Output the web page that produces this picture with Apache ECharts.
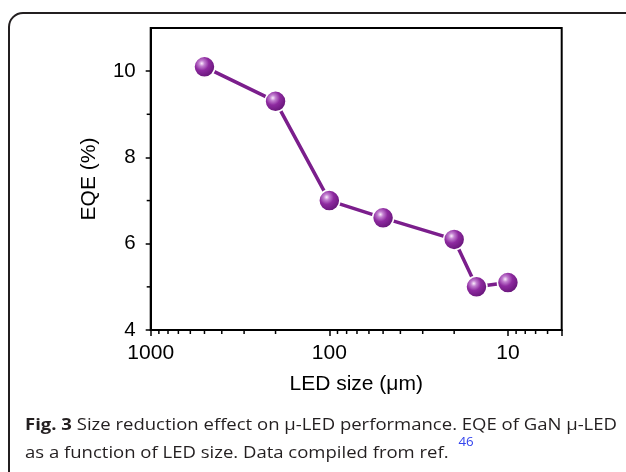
<!DOCTYPE html>
<html><head><meta charset="utf-8">
<script src="https://cdn.jsdelivr.net/npm/echarts@6/dist/echarts.min.js"></script>
<style>html,body{margin:0;padding:0;background:#fff}#c{width:626px;height:472px}</style>
</head><body><div id="c"></div>
<script>
// Data
const ledSize = [500, 200, 100, 50, 20, 15, 10];       // µm
const eqe     = [10.1, 9.3, 7.0, 6.6, 6.1, 5.0, 5.1];  // %
const xMinorTicks = [900,800,700,600,500,400,300,200, 90,80,70,60,50,40,30,20, 9,8,7,6];
const yMinorTicks = [5, 7, 9];
const xLabel = 'LED size (\u03bcm)';
const yLabel = 'EQE (%)';
const captionBold = 'Fig. 3';
const captionLine1 = ' Size reduction effect on \u03bc-LED performance. EQE of GaN \u03bc-LED';
const captionLine2 = 'as a function of LED size. Data compiled from ref. ';
const captionRef = '46';

const chart = echarts.init(document.getElementById('c'), null, {renderer: 'canvas'});
const AXF = 'Liberation Sans, Arial, Helvetica, sans-serif';
const CAPF = 'Open Sans';

// caption sizing via measurement
const cv = document.createElement('canvas').getContext('2d');
function w(txt, size, weight){ cv.font = (weight||'normal') + ' ' + size + 'px "' + CAPF + '"'; return cv.measureText(txt).width; }
const targetW = 592;
const fs = 16.5;
const sx = targetW / (w(captionBold, fs, 'bold') + w(captionLine1, fs));
const capX = 25;
const bw = w(captionBold, fs, 'bold') * sx;
const l2w = w(captionLine2, fs) * sx;

const purple = '#7b1e8c';
const sphere = new echarts.graphic.RadialGradient(0.38, 0.35, 0.7, [
  {offset: 0, color: '#fbeefd'},
  {offset: 0.18, color: '#c27fd0'},
  {offset: 0.45, color: '#8e2aa0'},
  {offset: 1, color: '#5e1170'}
]);

const option = {
  animation: false,
  grid: {left: 150.7, right: 64.3, top: 28, bottom: 142, show: true, borderColor: '#000', borderWidth: 2, containLabel: false},
  xAxis: {
    type: 'log', logBase: 10, min: 5, max: 1000, inverse: true,
    name: xLabel, nameLocation: 'middle', nameGap: 44,
    nameTextStyle: {fontFamily: AXF, fontSize: 21, color: '#000'},
    axisLine: {show: true, lineStyle: {color: '#000', width: 2}},
    axisTick: {show: true, length: 6, lineStyle: {color: '#000', width: 1.5}},
    splitLine: {show: false},
    axisLabel: {fontFamily: AXF, fontSize: 21, color: '#000', margin: 13,
      formatter: v => { const l = Math.log10(v); return Math.abs(l - Math.round(l)) < 1e-6 ? String(Math.round(v)) : ''; }}
  },
  yAxis: {
    type: 'value', min: 4, max: 11, interval: 2,
    name: yLabel, nameLocation: 'middle', nameGap: 51,
    nameTextStyle: {fontFamily: AXF, fontSize: 21, color: '#000'},
    axisLine: {show: true, lineStyle: {color: '#000', width: 2}},
    axisTick: {show: true, length: 5, lineStyle: {color: '#000', width: 1.5}},
    splitLine: {show: false},
    axisLabel: {fontFamily: AXF, fontSize: 20.5, color: '#000', margin: 15, showMaxLabel: false}
  },
  series: [{
    type: 'line',
    data: ledSize.map((s, i) => [s, eqe[i]]),
    lineStyle: {color: purple, width: 3.5},
    symbol: 'circle', symbolSize: 21,
    itemStyle: {color: sphere, borderColor: '#fff', borderWidth: 1.5},
    z: 3
  }],
  graphic: [
    {type: 'rect', id: 'frame', shape: {x: 9, y: 13, width: 700, height: 600, r: 14},
     style: {fill: 'none', stroke: '#231f20', lineWidth: 2}, silent: true},
    {type: 'text', id: 'c1b', x: capX, y: 425, scaleX: sx, style: {text: captionBold, font: 'bold ' + fs + 'px "' + CAPF + '"', fill: '#231f20', verticalAlign: 'middle'}},
    {type: 'text', id: 'c1', x: capX + bw, y: 425, scaleX: sx, style: {text: captionLine1, font: fs + 'px "' + CAPF + '"', fill: '#231f20', verticalAlign: 'middle'}},
    {type: 'text', id: 'c2', x: capX, y: 453, scaleX: sx, style: {text: captionLine2, font: fs + 'px "' + CAPF + '"', fill: '#231f20', verticalAlign: 'middle'}},
    {type: 'text', id: 'c2r', x: capX + l2w + 5, y: 443, scaleX: sx, style: {text: captionRef, font: (fs*0.72) + 'px "' + CAPF + '"', fill: '#3344ee', verticalAlign: 'middle'}}
  ]
};
chart.setOption(option);

// minor ticks, positioned through the axes' own scales
const g = [];
const yBase = chart.convertToPixel({yAxisIndex: 0}, 4);
xMinorTicks.forEach((v, i) => {
  const px = chart.convertToPixel({xAxisIndex: 0}, v);
  g.push({type: 'line', id: 'xm' + i, shape: {x1: px, y1: yBase, x2: px, y2: yBase + 4}, style: {stroke: '#000', lineWidth: 1.5}, silent: true});
});
const xBase = chart.convertToPixel({xAxisIndex: 0}, 1000);
yMinorTicks.forEach((v, i) => {
  const py = chart.convertToPixel({yAxisIndex: 0}, v);
  g.push({type: 'line', id: 'ym' + i, shape: {x1: xBase, y1: py, x2: xBase - 4, y2: py}, style: {stroke: '#000', lineWidth: 1.5}, silent: true});
});
chart.setOption({graphic: g});
</script>
</body></html>
